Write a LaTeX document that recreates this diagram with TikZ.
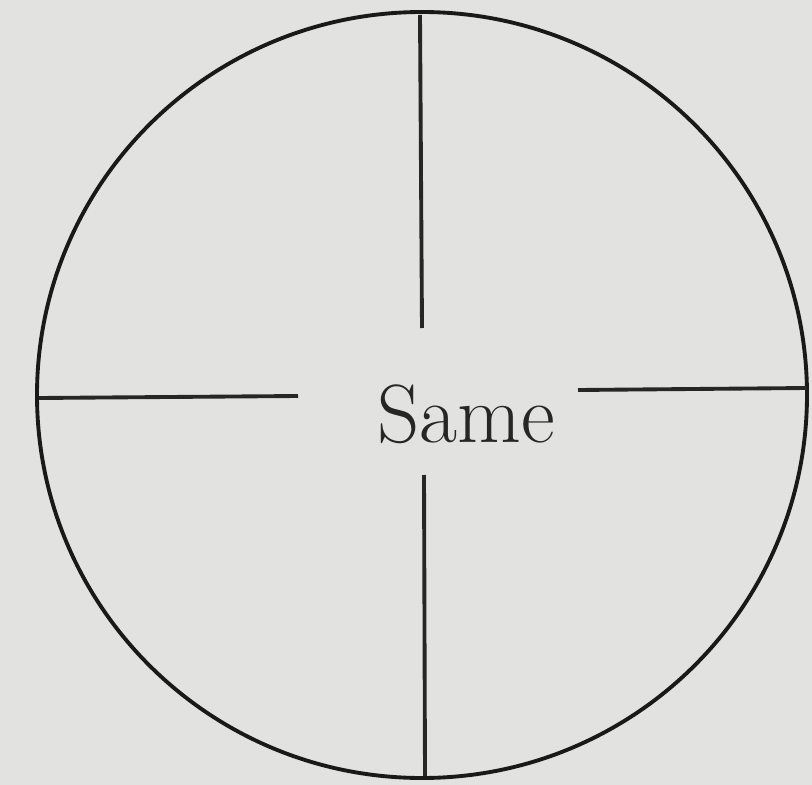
\documentclass[tikz,border=0pt]{standalone}
\usepackage{tikz}
\usetikzlibrary{positioning}
\definecolor{paper}{RGB}{226,226,224}

\begin{document}
\begin{tikzpicture}[x=0.01cm, y=-0.01cm,
  rim/.style={draw=black!90, line width=1.1pt},
  hair/.style={draw=black!85, line width=1.1pt},
  word/.style={font=\fontsize{23.5}{28}\selectfont, text=black!85, inner sep=0pt}]
\fill[paper] (0,0) rectangle (812,785);
\useasboundingbox (0,0) rectangle (812,785);
\draw[rim] (422,395) ellipse [x radius=385, y radius=383];
\node[word] (same) at (466,414) {Same};
\coordinate (topend) at (420,15);
\coordinate (topin) at (422,328);
\coordinate (botin) at (424,475);
\coordinate (botend) at (425,776);
\coordinate (leftend) at (39,398);
\coordinate (leftin) at (298,396);
\coordinate (rightin) at (578,390);
\coordinate (rightend) at (807,388);
\draw[hair] (topend) -- (topin);
\draw[hair] (botin) -- (botend);
\draw[hair] (leftend) -- (leftin);
\draw[hair] (rightin) -- (rightend);
\end{tikzpicture}
\end{document}
